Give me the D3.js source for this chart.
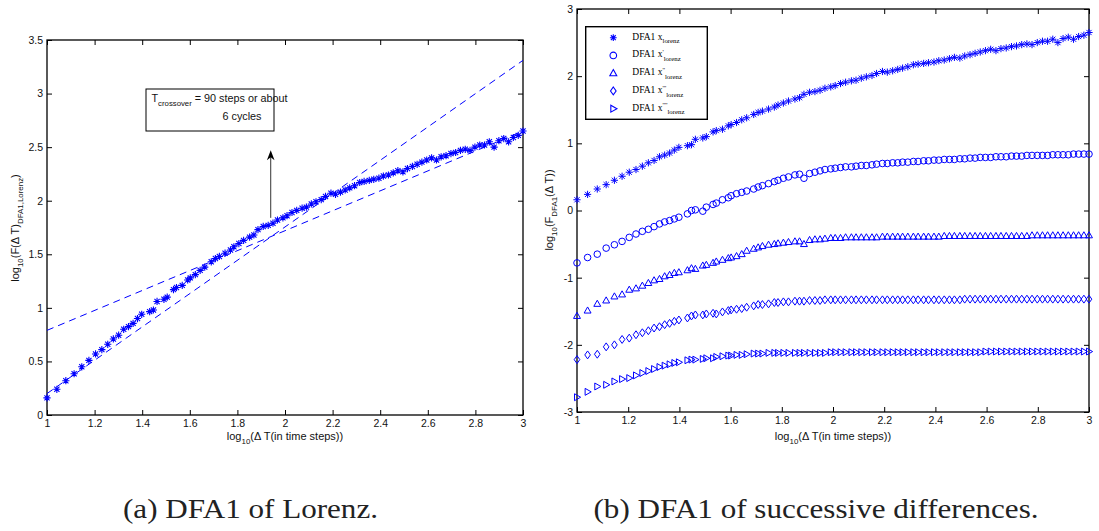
<!DOCTYPE html>
<html><head><meta charset="utf-8">
<script src="https://cdn.jsdelivr.net/npm/d3@7"></script>
<style>body{margin:0;background:#fff}</style>
</head><body>
<svg id="c" width="1099" height="531"></svg>
<script>
// ---------------- data ----------------
const windowSizes = [10,11,12,13,14,15,16,17,18,19,
  20,21,22,23,24,25,27,28,29,31,
  32,34,35,37,39,40,42,44,46,49,
  51,53,56,59,61,64,67,71,74,77,
  81,85,89,93,98,102,107,112,118,123,
  129,135,142,148,156,163,171,179,187,196,
  206,215,226,236,248,259,272,285,298,313,
  327,343,359,376,394,413,433,453,475,498,
  521,546,572,599,628,658,689,722,756,792,
  830,870,911,955,1000];

const dfaLorenz = [0.16,0.24,0.32,0.385,0.45,0.51,0.57,0.61,0.66,0.71,
  0.745,0.80,0.825,0.855,0.90,0.94,0.965,0.98,1.06,1.08,
  1.10,1.17,1.19,1.21,1.26,1.28,1.31,1.35,1.38,1.43,
  1.46,1.48,1.51,1.54,1.57,1.60,1.63,1.66,1.68,1.73,
  1.76,1.77,1.79,1.82,1.84,1.86,1.89,1.91,1.93,1.94,
  1.97,1.99,2.01,2.04,2.07,2.06,2.08,2.10,2.12,2.14,
  2.17,2.18,2.19,2.20,2.21,2.23,2.24,2.26,2.28,2.27,
  2.30,2.32,2.34,2.36,2.38,2.40,2.38,2.41,2.42,2.44,
  2.45,2.47,2.48,2.47,2.50,2.52,2.52,2.55,2.50,2.56,
  2.58,2.55,2.59,2.61,2.65];

const dfaDiff1 = [-0.78,-0.70,-0.65,-0.56,-0.51,-0.46,-0.40,-0.35,-0.31,-0.28,
  -0.24,-0.20,-0.17,-0.15,-0.125,-0.10,-0.05,0.00,0.01,-0.01,
  0.05,0.09,0.11,0.16,0.19,0.22,0.25,0.27,0.29,0.32,
  0.35,0.37,0.40,0.43,0.45,0.48,0.50,0.53,0.54,0.48,
  0.55,0.57,0.59,0.61,0.62,0.63,0.64,0.65,0.65,0.66,
  0.67,0.67,0.68,0.69,0.70,0.70,0.71,0.71,0.72,0.72,
  0.73,0.73,0.74,0.74,0.75,0.75,0.76,0.76,0.76,0.77,
  0.77,0.78,0.78,0.79,0.79,0.79,0.80,0.80,0.80,0.81,
  0.81,0.81,0.82,0.82,0.82,0.82,0.82,0.83,0.83,0.83,
  0.83,0.84,0.84,0.84,0.84];

const dfaDiff2 = [-1.57,-1.49,-1.39,-1.34,-1.28,-1.25,-1.18,-1.16,-1.12,-1.08,
  -1.04,-1.02,-0.98,-0.96,-0.93,-0.92,-0.89,-0.86,-0.87,-0.82,
  -0.81,-0.78,-0.76,-0.735,-0.71,-0.70,-0.68,-0.65,-0.60,-0.57,
  -0.55,-0.53,-0.51,-0.50,-0.49,-0.48,-0.47,-0.46,-0.46,-0.50,
  -0.44,-0.43,-0.43,-0.42,-0.41,-0.41,-0.41,-0.40,-0.40,-0.40,
  -0.40,-0.40,-0.40,-0.40,-0.39,-0.39,-0.39,-0.39,-0.39,-0.39,
  -0.39,-0.39,-0.39,-0.39,-0.39,-0.39,-0.38,-0.38,-0.38,-0.38,
  -0.38,-0.38,-0.38,-0.38,-0.38,-0.38,-0.38,-0.38,-0.38,-0.38,
  -0.38,-0.38,-0.38,-0.37,-0.37,-0.37,-0.37,-0.37,-0.37,-0.37,
  -0.37,-0.37,-0.37,-0.37,-0.37];

const dfaDiff3 = [-2.22,-2.15,-2.14,-2.03,-2.00,-1.92,-1.90,-1.85,-1.82,-1.79,
  -1.75,-1.73,-1.70,-1.68,-1.65,-1.63,-1.60,-1.57,-1.555,-1.555,
  -1.54,-1.53,-1.54,-1.51,-1.49,-1.48,-1.47,-1.46,-1.44,-1.42,
  -1.40,-1.40,-1.39,-1.37,-1.37,-1.36,-1.36,-1.35,-1.35,-1.35,
  -1.34,-1.34,-1.34,-1.33,-1.33,-1.33,-1.33,-1.33,-1.33,-1.33,
  -1.33,-1.33,-1.33,-1.33,-1.33,-1.33,-1.33,-1.33,-1.33,-1.33,
  -1.33,-1.33,-1.33,-1.33,-1.33,-1.33,-1.33,-1.33,-1.33,-1.33,
  -1.32,-1.32,-1.32,-1.32,-1.32,-1.32,-1.32,-1.32,-1.32,-1.32,
  -1.32,-1.32,-1.32,-1.32,-1.32,-1.32,-1.32,-1.32,-1.32,-1.32,
  -1.32,-1.32,-1.32,-1.32,-1.32];

const dfaDiff4 = [-2.78,-2.70,-2.62,-2.595,-2.545,-2.51,-2.495,-2.455,-2.42,-2.39,
  -2.36,-2.33,-2.31,-2.29,-2.27,-2.26,-2.23,-2.22,-2.22,-2.21,
  -2.20,-2.20,-2.18,-2.17,-2.16,-2.16,-2.15,-2.15,-2.14,-2.13,
  -2.13,-2.13,-2.12,-2.12,-2.12,-2.12,-2.12,-2.12,-2.12,-2.12,
  -2.12,-2.12,-2.12,-2.12,-2.11,-2.11,-2.11,-2.11,-2.11,-2.11,
  -2.11,-2.11,-2.11,-2.11,-2.11,-2.11,-2.11,-2.11,-2.11,-2.11,
  -2.11,-2.11,-2.11,-2.11,-2.11,-2.11,-2.11,-2.11,-2.11,-2.11,
  -2.11,-2.11,-2.11,-2.11,-2.10,-2.10,-2.10,-2.10,-2.10,-2.10,
  -2.10,-2.10,-2.10,-2.10,-2.10,-2.10,-2.10,-2.10,-2.10,-2.10,
  -2.10,-2.10,-2.10,-2.10,-2.10];

// fitted scaling lines on panel (a)
const fitSteepX = [1, 3],   fitSteepY = [0.20, 3.31];
const fitShallowX = [1, 3], fitShallowY = [0.79, 2.65];
// crossover arrow (data coords of panel a)
const arrowX = [1.94, 1.94], arrowY = [1.84, 2.47];

const xTicks = [1,1.2,1.4,1.6,1.8,2,2.2,2.4,2.6,2.8,3];
const xTickLabels = ["1","1.2","1.4","1.6","1.8","2","2.2","2.4","2.6","2.8","3"];
const yTicksA = [0,0.5,1,1.5,2,2.5,3,3.5];
const yTickLabelsA = ["0","0.5","1","1.5","2","2.5","3","3.5"];
const yTicksB = [-3,-2,-1,0,1,2,3];
const yTickLabelsB = ["-3","-2","-1","0","1","2","3"];

const seriesNames = ["x", "x'", "x''", "x'''", "x''''"];
const seriesPrimes = ["", "'", "''", "'''", "''''"];
const seriesMarkers = ["star","circle","triangleUp","diamond","triangleRight"];
const seriesValues = [dfaLorenz, dfaDiff1, dfaDiff2, dfaDiff3, dfaDiff4];

// ---------------- drawing ----------------
const svg = d3.select("#c");
svg.append("rect").attr("width",1099).attr("height",531).attr("fill","#fff");
const BLUE = "#0000ff";
const SANS = "Liberation Sans, Arial, sans-serif";
const SERIF = "Liberation Serif, Times New Roman, serif";
const logDT = windowSizes.map(n => Math.log10(n));

function markerPath(type, s) {
  const p = d3.path();
  if (type === "star") {
    const d = s * 0.72;
    p.moveTo(-s,0); p.lineTo(s,0);
    p.moveTo(0,-s); p.lineTo(0,s);
    p.moveTo(-d,-d); p.lineTo(d,d);
    p.moveTo(-d,d); p.lineTo(d,-d);
  } else if (type === "circle") {
    p.moveTo(s,0); p.arc(0,0,s,0,2*Math.PI);
  } else if (type === "triangleUp") {
    p.moveTo(0,-s*1.1); p.lineTo(s*1.05,s*0.75); p.lineTo(-s*1.05,s*0.75); p.closePath();
  } else if (type === "diamond") {
    p.moveTo(0,-s*1.2); p.lineTo(s*0.85,0); p.lineTo(0,s*1.2); p.lineTo(-s*0.85,0); p.closePath();
  } else if (type === "triangleRight") {
    p.moveTo(s*1.1,0); p.lineTo(-s*0.75,-s*1.05); p.lineTo(-s*0.75,s*1.05); p.closePath();
  }
  return p.toString();
}

function addSubText(sel, parts, size) {
  let shift = 0;
  parts.forEach(([t, kind]) => {
    const ts = sel.append("tspan").text(t);
    let target = 0, fs = size;
    if (kind === "sub") { target = size*0.38; fs = size*0.72; }
    if (kind === "sup") { target = -size*0.35; fs = size*0.72; }
    ts.attr("dy", target - shift).attr("font-size", fs);
    shift = target;
  });
}

function drawAxes(g, x, y, yTicks, yLabels) {
  const [x0, x1] = x.range();
  const [y0, y1] = y.range();
  g.append("g").attr("transform", `translate(0,${y0})`)
    .call(d3.axisBottom(x).tickValues(xTicks).tickFormat((d,i)=>xTickLabels[i]).tickSizeInner(-5).tickSizeOuter(0).tickPadding(5));
  g.append("g").attr("transform", `translate(0,${y1})`)
    .call(d3.axisTop(x).tickValues(xTicks).tickFormat("").tickSizeInner(-5).tickSizeOuter(0));
  g.append("g").attr("transform", `translate(${x0},0)`)
    .call(d3.axisLeft(y).tickValues(yTicks).tickFormat((d,i)=>yLabels[i]).tickSizeInner(-5).tickSizeOuter(0).tickPadding(4));
  g.append("g").attr("transform", `translate(${x1},0)`)
    .call(d3.axisRight(y).tickValues(yTicks).tickFormat("").tickSizeInner(-5).tickSizeOuter(0));
  g.selectAll(".domain").remove();
  g.selectAll(".tick line").attr("stroke","#000").attr("stroke-width",1);
  g.selectAll(".tick text").attr("font-family",SANS).attr("font-size",10.5).attr("fill","#111");
  g.append("rect").attr("x",x0).attr("y",y1).attr("width",x1-x0).attr("height",y0-y1)
    .attr("fill","none").attr("stroke","#000").attr("stroke-width",1.3);
}

// ----- panel (a) -----
const xA = d3.scaleLinear().domain([1,3]).range([47,523]);
const yA = d3.scaleLinear().domain([0,3.5]).range([415,40]);
const gA = svg.append("g");
drawAxes(gA, xA, yA, yTicksA, yTickLabelsA);

const lineA = d3.line().x(d=>xA(d[0])).y(d=>yA(d[1]));
[[fitSteepX, fitSteepY],[fitShallowX, fitShallowY]].forEach(([xs, ys]) => {
  gA.append("path").attr("d", lineA(xs.map((v,i)=>[v, ys[i]])))
    .attr("fill","none").attr("stroke",BLUE).attr("stroke-width",1).attr("stroke-dasharray","7,5");
});

gA.append("g").selectAll("path").data(logDT.map((v,i)=>[v, dfaLorenz[i]])).join("path")
  .attr("transform", d=>`translate(${xA(d[0])},${yA(d[1])})`)
  .attr("d", markerPath("star", 3.6))
  .attr("fill","none").attr("stroke",BLUE).attr("stroke-width",1.1);

// annotation arrow
const ax = xA(arrowX[0]), ayStart = yA(arrowY[0]), ayEnd = yA(arrowY[1]);
gA.append("line").attr("x1",ax).attr("x2",ax).attr("y1",ayStart).attr("y2",ayEnd+6)
  .attr("stroke","#333").attr("stroke-width",1);
gA.append("path").attr("d",`M${ax},${ayEnd} L${ax-3.8},${ayEnd+10} L${ax},${ayEnd+7} L${ax+3.8},${ayEnd+10} Z`)
  .attr("fill","#000");

// annotation box
gA.append("rect").attr("x",146).attr("y",89).attr("width",128).attr("height",42)
  .attr("fill","#fff").attr("stroke","#000").attr("stroke-width",1);
const ann = gA.append("text").attr("x",151.5).attr("y",102).attr("font-family",SANS).attr("font-size",10.8).attr("fill","#111");
addSubText(ann, [["T","n"],["crossover","sub"],[" = 90 steps or about","n"]], 10.8);
gA.append("text").attr("x",222.5).attr("y",120).attr("font-family",SANS).attr("font-size",10.8).attr("fill","#111").text("6 cycles");

// axis labels panel a
const xlabA = gA.append("text").attr("x",285).attr("y",440).attr("text-anchor","middle")
  .attr("font-family",SANS).attr("font-size",11).attr("fill","#111");
addSubText(xlabA, [["log","n"],["10","sub"],["(Δ T(in time steps))","n"]], 11);
const ylabA = gA.append("text").attr("transform","translate(19,228) rotate(-90)").attr("text-anchor","middle")
  .attr("font-family",SANS).attr("font-size",11).attr("fill","#111");
addSubText(ylabA, [["log","n"],["10","sub"],["(F(Δ T)","n"],["DFA1,Lorenz","sub"],[")","n"]], 11);

// ----- panel (b) -----
const xB = d3.scaleLinear().domain([1,3]).range([577,1089]);
const yB = d3.scaleLinear().domain([-3,3]).range([412,9]);
const gB = svg.append("g");
drawAxes(gB, xB, yB, yTicksB, yTickLabelsB);

seriesValues.forEach((vals, si) => {
  gB.append("g").selectAll("path").data(logDT.map((v,i)=>[v, vals[i]])).join("path")
    .attr("transform", d=>`translate(${xB(d[0])},${yB(d[1])})`)
    .attr("d", markerPath(seriesMarkers[si], si===0 ? 3.6 : 3.3))
    .attr("fill","none").attr("stroke",BLUE).attr("stroke-width",1);
});

const xlabB = gB.append("text").attr("x",833).attr("y",440).attr("text-anchor","middle")
  .attr("font-family",SANS).attr("font-size",11).attr("fill","#111");
addSubText(xlabB, [["log","n"],["10","sub"],["(Δ T(in time steps))","n"]], 11);
const ylabB = gB.append("text").attr("transform","translate(553,210) rotate(-90)").attr("text-anchor","middle")
  .attr("font-family",SANS).attr("font-size",11).attr("fill","#111");
addSubText(ylabB, [["log","n"],["10","sub"],["(F","n"],["DFA1","sub"],["(Δ T))","n"]], 11);

// legend
const leg = gB.append("g");
leg.append("rect").attr("x",585.7).attr("y",26.7).attr("width",121.6).attr("height",92.6)
  .attr("fill","#fff").attr("stroke","#000").attr("stroke-width",1.4);
seriesNames.forEach((nm, i) => {
  const cy = 37.7 + i*17.75;
  leg.append("path").attr("transform",`translate(613.3,${cy})`)
    .attr("d", markerPath(seriesMarkers[i], i===0 ? 3.4 : 3.3))
    .attr("fill","none").attr("stroke",BLUE).attr("stroke-width",1.1);
  const t = leg.append("text").attr("x",632.3).attr("y",cy+2).attr("font-family",SERIF).attr("font-size",9.5).attr("fill","#000");
  const parts = [["DFA1 x","n"]];
  if (seriesPrimes[i]) parts.push([seriesPrimes[i],"sup"]);
  parts.push(["lorenz","sub"]);
  addSubText(t, parts, 9.5);
});

// captions
svg.append("text").attr("x",250.5).attr("y",517.7).attr("text-anchor","middle")
  .attr("font-family",SERIF).attr("font-size",27).attr("fill","#222")
  .attr("textLength",255).attr("lengthAdjust","spacingAndGlyphs").text("(a) DFA1 of Lorenz.");
svg.append("text").attr("x",816).attr("y",517.7).attr("text-anchor","middle")
  .attr("font-family",SERIF).attr("font-size",27).attr("fill","#222")
  .attr("textLength",445).attr("lengthAdjust","spacingAndGlyphs").text("(b) DFA1 of successive differences.");
</script>
</body></html>
